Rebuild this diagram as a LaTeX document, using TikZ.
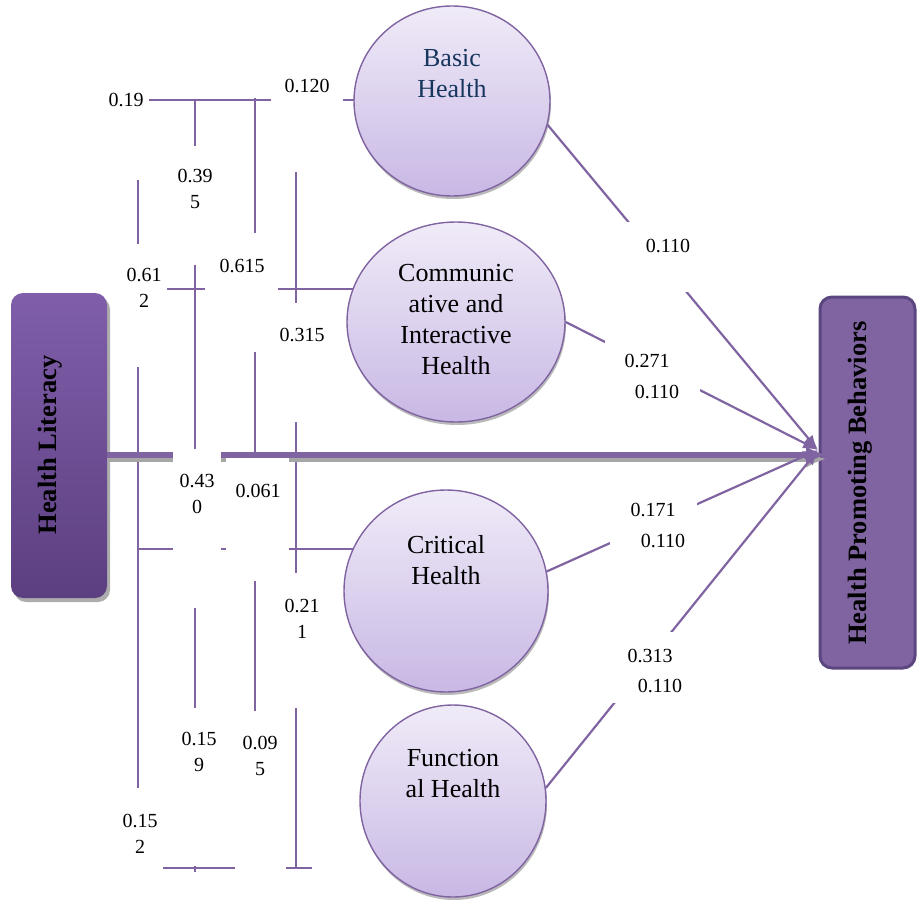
\documentclass[tikz,border=0pt]{standalone}
\usepackage{fontspec}
\setmainfont{Liberation Serif}
\usetikzlibrary{arrows.meta,shapes.geometric,shadows}
\definecolor{linkcol}{RGB}{128,100,162}
\definecolor{hltop}{RGB}{128,94,170}
\definecolor{hlbot}{RGB}{92,63,128}
\definecolor{hpbedge}{RGB}{92,70,128}
\definecolor{bubtop}{RGB}{240,235,248}
\definecolor{bubbot}{RGB}{200,184,228}
\definecolor{navytxt}{RGB}{23,54,93}
\tikzset{
	link/.style={draw=linkcol,line width=2.2pt},
	linkarrow/.style={link,-{Latex[length=15pt,width=11pt]}},
	bigarrow/.style={draw=linkcol,line width=6pt,-{Latex[length=20pt,width=18pt]}},
	bigshadow/.style={draw=black!35,line width=6pt,-{Latex[length=20pt,width=18pt]}},
	bubble/.style={ellipse,draw=linkcol,line width=1.4pt,top color=bubtop,bottom color=bubbot,inner sep=0pt,
		drop shadow={shadow xshift=1pt,shadow yshift=-3pt,fill=black!45,opacity=.6}},
	bubtext/.style={font=\fontsize{26}{31}\selectfont,align=center,inner sep=0pt},
	coef/.style={font=\fontsize{20}{26}\selectfont,align=center,inner sep=0pt},
	boxtext/.style={font=\fontsize{26.5}{30}\selectfont\bfseries,rotate=90,inner sep=0pt}
}
\begin{document}
\begin{tikzpicture}[x=1pt,y=-1pt]
	\useasboundingbox (0,0) rectangle (917,899);
	% the two outer boxes
	\node[rounded corners=12pt,top color=hltop,bottom color=hlbot,minimum width=96pt,minimum height=305pt,inner sep=0pt,
		drop shadow={shadow xshift=3pt,shadow yshift=-4pt,fill=black!40,opacity=.8}] (hl) at (59,445.5) {};
	\node[rounded corners=12pt,fill=linkcol,draw=hpbedge,line width=3pt,minimum width=95pt,minimum height=371pt,inner sep=0pt] (hpb) at (867.5,482.5) {};
	\node[boxtext] (hlT) at (50,445) {Health Literacy};
	\node[boxtext] (hpbT) at (860,483) {Health Promoting Behaviors};
	\coordinate (hlout) at (107,455);
	\coordinate (hpbin) at (826,455);
	\coordinate (tip) at (818,450);
	% left brackets
	\draw[link] (138,100) -- (138,868);
	\draw[link] (195,100) -- (195,872);
	\draw[link] (255,98) -- (255,868);
	\draw[link] (296,100) -- (296,868);
	\draw[link] (138,100) -- (354,100);
	\draw[link] (138,289) -- (354,289);
	\draw[link] (138,549) -- (354,549);
	\draw[link] (138,868) -- (312,868);
	\draw[bigshadow] ([yshift=-4pt]hlout) -- ([yshift=-4pt]hpbin);
	\foreach \xa/\ya/\xb/\yb in {103/20/149/180, 271/0/343/172, 160/146/230/265, 112/244/167/367, 205/233/278/352,
		265/303/340/422, 270/573/335/708, 170/708/228/866, 235/711/286/880, 110/788/163/899, 226/458/289/581}
		\fill[white] (\xa,\ya) rectangle (\xb,\yb);
	\draw[bigarrow] (hlout) -- (hpbin);
	\fill[white] (173,449) rectangle (221,608);
	% circles
	\node[bubble,minimum width=196pt,minimum height=190pt] (basic) at (452,101) {};
	\node[bubble,minimum width=218pt,minimum height=200pt] (comm) at (456,322) {};
	\node[bubble,minimum width=204pt,minimum height=202pt] (crit) at (446,591) {};
	\node[bubble,minimum width=186pt,minimum height=192pt] (func) at (453,801) {};
	\draw[linkarrow] (basic.-14) -- (tip);
	\draw[linkarrow] (comm.east) -- (tip);
	\draw[linkarrow] (crit.11) -- (tip);
	\draw[linkarrow] (func.8) -- (tip);
	\foreach \xa/\ya/\xb/\yb in {620/222/705/292, 605/335/700/405, 610/490/697/560, 600/632/700/703}
		\fill[white] (\xa,\ya) rectangle (\xb,\yb);
	\node[bubtext,text=navytxt] (basicT) at (452,74) {Basic\\Health};
	\node[bubtext] (commT) at (456,320) {Communic\\ative and\\Interactive\\Health};
	\node[bubtext] (critT) at (446,560) {Critical\\Health};
	\node[bubtext] (funcT) at (453,774) {Function\\al Health};
	% coefficients
	\node[coef] (c19) at (126,100) {0.19};
	\node[coef] (c120) at (307,86) {0.120};
	\node[coef] (c395) at (195,189) {0.39\\5};
	\node[coef] (c612) at (144,288) {0.61\\2};
	\node[coef] (c615) at (242,266) {0.615};
	\node[coef] (c315) at (302,335) {0.315};
	\node[coef] (c430) at (197,494) {0.43\\0};
	\node[coef] (c061) at (258,491) {0.061};
	\node[coef] (c211) at (302,619) {0.21\\1};
	\node[coef] (c159) at (199,752) {0.15\\9};
	\node[coef] (c095) at (260,756) {0.09\\5};
	\node[coef] (c152) at (140,834) {0.15\\2};
	\node[coef] (cb) at (668,246) {0.110};
	\node[coef] (cc1) at (647,361) {0.271};
	\node[coef] (cc2) at (657,392) {0.110};
	\node[coef] (ck1) at (653,510) {0.171};
	\node[coef] (ck2) at (663,541) {0.110};
	\node[coef] (cf1) at (650,656) {0.313};
	\node[coef] (cf2) at (660,686) {0.110};
\end{tikzpicture}
\end{document}
